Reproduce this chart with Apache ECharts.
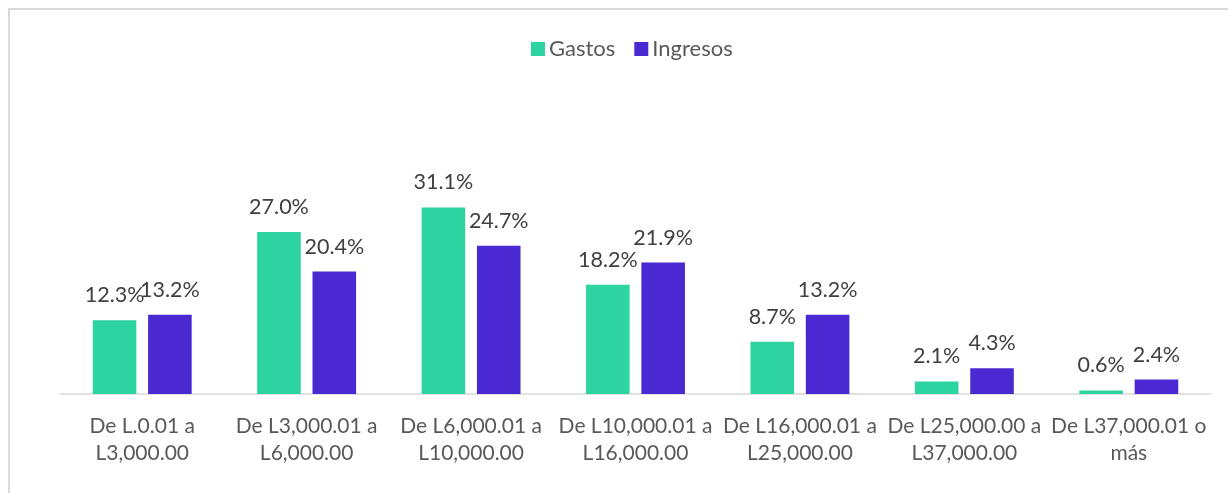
<!DOCTYPE html>
<html>
<head>
<meta charset="utf-8">
<script src="https://cdn.jsdelivr.net/npm/echarts@6/dist/echarts.min.js"></script>
<style>html,body{margin:0;padding:0;background:#fff;}#c{width:1228px;height:493px;}</style>
</head>
<body>
<div id="c"></div>
<script>
var categories = ['De L.0.01 a\nL3,000.00','De L3,000.01 a\nL6,000.00','De L6,000.01 a\nL10,000.00','De L10,000.01 a\nL16,000.00','De L16,000.01 a\nL25,000.00','De L25,000.00 a\nL37,000.00','De L37,000.01 o\nmás'];
var gastos = [12.3, 27.0, 31.1, 18.2, 8.7, 2.1, 0.6];
var ingresos = [13.2, 20.4, 24.7, 21.9, 13.2, 4.3, 2.4];
var seriesNames = ['Gastos', 'Ingresos'];

var FONT = 'Lato';
var chart = echarts.init(document.getElementById('c'));
var lbl = {show:true, position:'top', distance:14, fontFamily:FONT, fontSize:21.5, color:'#404040',
  formatter:function(p){return p.value.toFixed(1)+'%';}};
chart.setOption({
  animation:false,
  graphic:[{type:'rect', shape:{x:9,y:9,width:1240,height:500}, style:{fill:'none', stroke:'#d9d9d9', lineWidth:2}, silent:true}],
  legend:{left:526, top:33, itemWidth:14, itemHeight:14, itemGap:19, icon:'rect',
    textStyle:{fontFamily:FONT, fontSize:22, color:'#595959', padding:[0,0,0,-1]}},
  grid:{left:60, right:17, top:184, bottom:99},
  xAxis:{type:'category', data:categories,
    axisLine:{lineStyle:{color:'#d9d9d9', width:1.5}}, axisTick:{show:false},
    axisLabel:{interval:0, margin:19, fontFamily:FONT, fontSize:21, lineHeight:27, color:'#595959'}},
  yAxis:{type:'value', min:0, max:35, show:false, splitLine:{show:false}},
  series:[
    {name:seriesNames[0], type:'bar', data:gastos, barWidth:'26.5%', barGap:'27%', itemStyle:{color:'#2dd3a0'}, label:lbl},
    {name:seriesNames[1], type:'bar', data:ingresos, barWidth:'26.5%', barGap:'27%', itemStyle:{color:'#4a29d2'}, label:lbl}
  ]
});
</script>
</body>
</html>
